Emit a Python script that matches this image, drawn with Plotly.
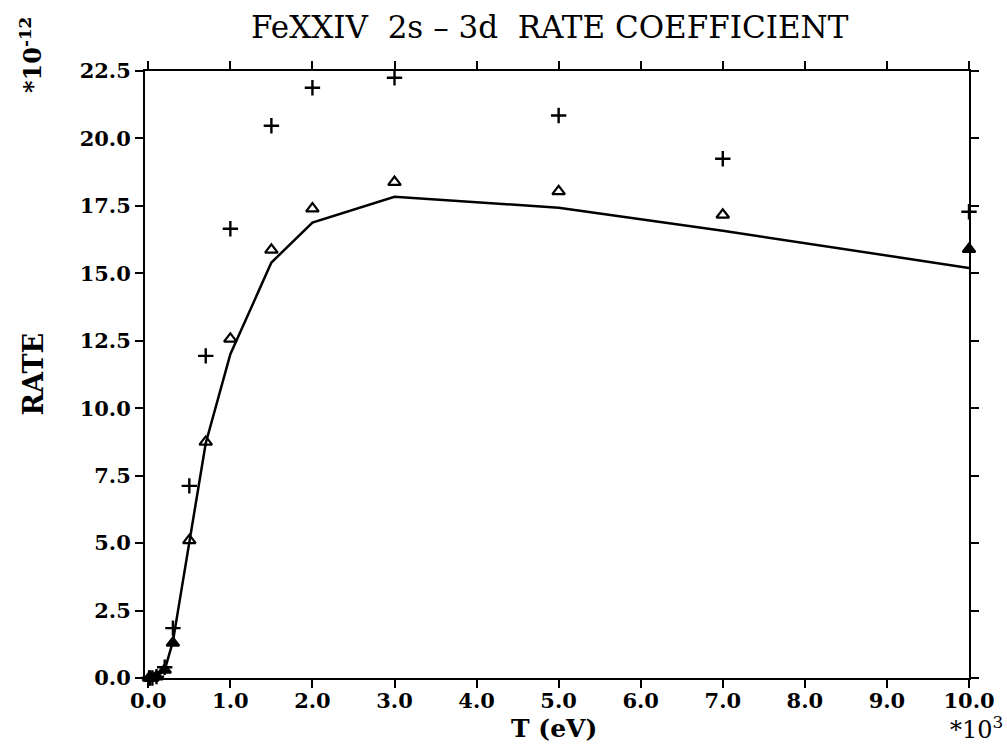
import plotly.graph_objects as go

# Electron temperature in units of 10^3 eV
temperature = [0.01, 0.02, 0.05, 0.1, 0.2, 0.3, 0.5, 0.7, 1.0, 1.5, 2.0, 3.0, 5.0, 7.0, 10.0]

# Rate coefficients in units of 10^-12
rate_curve = [0.0, 0.0, 0.0, 0.05, 0.3, 1.35, 5.1, 8.7, 12.0, 15.4, 16.88, 17.84, 17.43, 16.58, 15.2]
rate_triangle = [0.0, 0.0, 0.0, 0.05, 0.3, 1.3, 5.1, 8.75, 12.57, 15.87, 17.4, 18.38, 18.04, 17.17, 15.9]
rate_plus = [0.0, 0.0, 0.0, 0.05, 0.4, 1.85, 7.12, 11.94, 16.65, 20.47, 21.88, 22.25, 20.85, 19.25, 17.28]

x_ticks = [0, 1, 2, 3, 4, 5, 6, 7, 8, 9, 10]
x_tick_text = ["0.0", "1.0", "2.0", "3.0", "4.0", "5.0", "6.0", "7.0", "8.0", "9.0", "10.0"]
y_ticks = [0, 2.5, 5, 7.5, 10, 12.5, 15, 17.5, 20, 22.5]
y_tick_text = ["0.0", "2.5", "5.0", "7.5", "10.0", "12.5", "15.0", "17.5", "20.0", "22.5"]

serif = "DejaVu Serif"

# solid triangles where the marker sits on the curve or the frame
tri_symbols = ["triangle-up" if (t <= 0.3 or t >= 10) else "triangle-up-open" for t in temperature]

fig = go.Figure()
fig.add_trace(go.Scatter(
    x=temperature, y=rate_curve, mode="lines",
    line=dict(color="black", width=2.5), cliponaxis=False, showlegend=False,
))
fig.add_trace(go.Scatter(
    x=temperature, y=rate_triangle, mode="markers",
    marker=dict(symbol=tri_symbols, size=11, color="black",
                line=dict(color="black", width=2.2)),
    cliponaxis=False, showlegend=False,
))
fig.add_trace(go.Scatter(
    x=temperature, y=rate_plus, mode="markers",
    marker=dict(symbol="cross-thin", size=11, color="black",
                line=dict(color="black", width=2.4)),
    cliponaxis=False, showlegend=False,
))

axis_common = dict(
    showline=True, linecolor="black", linewidth=2, mirror="ticks",
    ticks="outside", ticklen=8, tickwidth=2, tickcolor="black",
    showgrid=False, zeroline=False,
    tickfont=dict(family=serif, size=21, color="black", weight="bold"),
)

fig.update_layout(
    width=1007, height=749,
    margin=dict(l=145, r=38, t=71, b=71),
    paper_bgcolor="white", plot_bgcolor="white",
    xaxis=dict(range=[-0.04, 10.0], tickvals=x_ticks, ticktext=x_tick_text,
               ticklabelstandoff=-5, **axis_common),
    yaxis=dict(range=[0, 22.5], tickvals=y_ticks, ticktext=y_tick_text, **axis_common),
    annotations=[
        dict(text="FeXXIV  2s \u2013 3d  RATE COEFFICIENT", xref="paper", yref="paper",
             x=0.5, xshift=-7, y=1.0, yshift=44, xanchor="center", yanchor="middle", showarrow=False,
             font=dict(family=serif, size=31, color="black")),
        dict(text="RATE", xref="paper", yref="paper", x=0, xshift=-112, y=0.5,
             textangle=-90, xanchor="center", yanchor="middle", showarrow=False,
             font=dict(family=serif, size=27, color="black", weight="bold")),
        dict(text="T (eV)", xref="paper", yref="paper", x=0.5, xshift=-3, y=0, yshift=-50,
             xanchor="center", yanchor="middle", showarrow=False,
             font=dict(family=serif, size=25, color="black", weight="bold")),
        dict(text="*10<sup>-12</sup>", xref="paper", yref="paper", x=0, xshift=-114, y=1.0, yshift=16,
             textangle=-90, xanchor="center", yanchor="middle", showarrow=False,
             font=dict(family=serif, size=24, color="black", weight="bold")),
        dict(text="*10<sup>3</sup>", xref="paper", yref="paper", x=1.0, xshift=7, y=0, yshift=-50,
             xanchor="center", yanchor="middle", showarrow=False,
             font=dict(family=serif, size=24, color="black")),
    ],
)

fig.write_html("out.html")
